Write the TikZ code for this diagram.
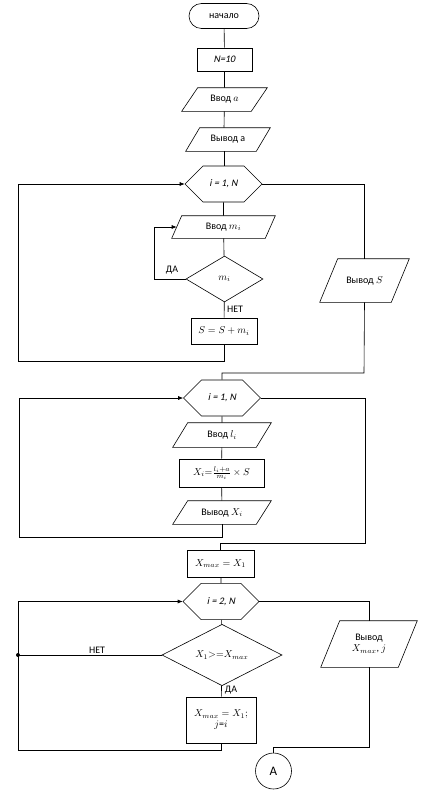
\documentclass[tikz,border=0pt]{standalone}
\usepackage{fontspec}
\setmainfont{Carlito}[ItalicFont=Carlito,ItalicFeatures={FakeSlant=0.2}]
\usetikzlibrary{shapes.geometric,shapes.misc,arrows.meta}
\tikzset{
	blk/.style={draw,line width=0.6pt,inner sep=1pt,font=\fontsize{10}{11}\selectfont,align=center},
	term/.style={blk,rounded rectangle,minimum width=72pt,minimum height=25pt},
	proc/.style={blk,rectangle},
	io/.style={blk,draw=none,rectangle},
	cyc/.style={blk,chamfered rectangle,chamfered rectangle xsep=15pt,chamfered rectangle ysep=13.9pt,minimum width=77pt,minimum height=28pt,inner sep=0pt},
	cond/.style={blk,diamond,inner sep=0pt},
	lnk/.style={line width=0.6pt},
	arr/.style={lnk,-{Latex[length=5pt,width=4pt]}},
	lbl/.style={font=\fontsize{10}{11}\selectfont,inner sep=1pt}
}
\begin{document}
\begin{tikzpicture}[x=1pt,y=-1pt]
	\useasboundingbox (0,0) rectangle (422,800);
	\node[term] (start) at (224,16) {начало};
	\node[proc,minimum width=55pt,minimum height=23pt] (n10) at (224.5,59.5) {\itshape N=10};
	\node[io,minimum width=69pt,minimum height=23pt] (vvoda) at (224.5,99.5) {Ввод $a$};
	\node[io,minimum width=70pt,minimum height=23pt] (vyvoda) at (228,139.5) {Вывод a};
	\node[cyc] (loop1) at (223.5,184) {\itshape i = 1, N};
	\node[io,minimum width=93pt,minimum height=22pt] (vvodm) at (223.5,227) {Ввод $m_i$};
	\node[cond,minimum width=77pt,minimum height=46pt] (ifm) at (224.5,279) {$m_i$};
	\node[proc,minimum width=66pt,minimum height=26pt] (sum) at (224,331) {$S = S + m_i$};
	\node[io,minimum width=71pt,minimum height=43pt] (vyvS) at (364.5,280.5) {Вывод $S$};
	\node[cyc] (loop2) at (222,398) {\itshape i = 1, N};
	\node[io,minimum width=83pt,minimum height=24pt] (vvodl) at (222,435) {Ввод $l_i$};
	\node[proc,minimum width=85pt,minimum height=28pt] (calcx) at (221.5,473) {$X_i{=}\frac{l_i+a}{m_i}\times S$};
	\node[io,minimum width=83pt,minimum height=23pt] (vyvx) at (222,512.5) {Вывод $X_i$};
	\node[proc,minimum width=67pt,minimum height=27pt] (xmax) at (220.5,563.5) {$X_{max}=X_1$};
	\node[cyc,minimum width=76pt,minimum height=29pt,chamfered rectangle ysep=14.4pt] (loop3) at (221,601.5) {\itshape i = 2, N};
	\node[cond,minimum width=120pt,minimum height=60pt] (cmp) at (222,655) {$X_1{>}{=}X_{max}$};
	\node[proc,minimum width=70pt,minimum height=46pt] (upd) at (221,720) {$X_{max}=X_1;$\\$j$=$i$};
	\node[io,minimum width=77pt,minimum height=46pt] (vyvxm) at (369,644) {Вывод\\$X_{max}$, $j$};
	\node[draw,lnk,circle,minimum size=36pt,inner sep=0pt,font=\fontsize{13}{14}\selectfont] (endA) at (273.5,771) {A};
	\foreach \n/\s in {vvoda/16pt,vyvoda/14pt,vvodm/10pt,vyvS/18pt,vvodl/15pt,vyvx/15pt,vyvxm/19pt}
		\draw[lnk] ([xshift=-\s/2]\n.south west) -- ([xshift=-\s/2]\n.south east) -- ([xshift=\s/2]\n.north east) -- ([xshift=\s/2]\n.north west) -- cycle;
	\coordinate (da) at (154,279);
	\coordinate (l1) at (18,361);
	\coordinate (j1) at (364,373);
	\coordinate (l2) at (19,537);
	\coordinate (j2) at (365,543);
	\coordinate (dot) at (18,655);
	\coordinate (l3) at (18,750);
	\coordinate (j3) at (369,747);
	\draw[lnk] (start) -- (n10) -- (vvoda) -- (vyvoda.north -| start);
	\draw[lnk] (vyvoda.south -| start) -- (loop1.north -| start);
	\draw[lnk] (loop1) -- (vvodm) -- (ifm) -- (sum);
	\draw[arr] (ifm.west) -- (da) |- (vvodm.west);
	\draw[arr] (sum.south) |- (l1) |- (loop1.west);
	\draw[lnk] (loop1.east) -| (vyvS.north);
	\draw[lnk] (vyvS.south) -- (j1) -| (loop2.north);
	\draw[lnk] (loop2) -- (vvodl) -- (calcx) -- (vyvx);
	\draw[arr] (vyvx.south) |- (l2) |- (loop2.west);
	\draw[lnk] (loop2.east) -| (j2) -| (xmax.north);
	\draw[lnk] (xmax.south -| loop3) -- (loop3) -- (cmp) -- (upd);
	\draw[lnk] (cmp.west) -- (dot);
	\fill (dot) circle (2pt);
	\draw[arr] (upd.south) |- (l3) |- (loop3.west);
	\draw[lnk] (loop3.east) -| (vyvxm.north);
	\draw[lnk] (vyvxm.south) -- (j3) -| (endA.north);
	\node[lbl] at (172,270) {ДА};
	\node[lbl] at (235,309) {НЕТ};
	\node[lbl] at (97,650) {НЕТ};
	\node[lbl] at (231,690) {ДА};
\end{tikzpicture}
\end{document}
